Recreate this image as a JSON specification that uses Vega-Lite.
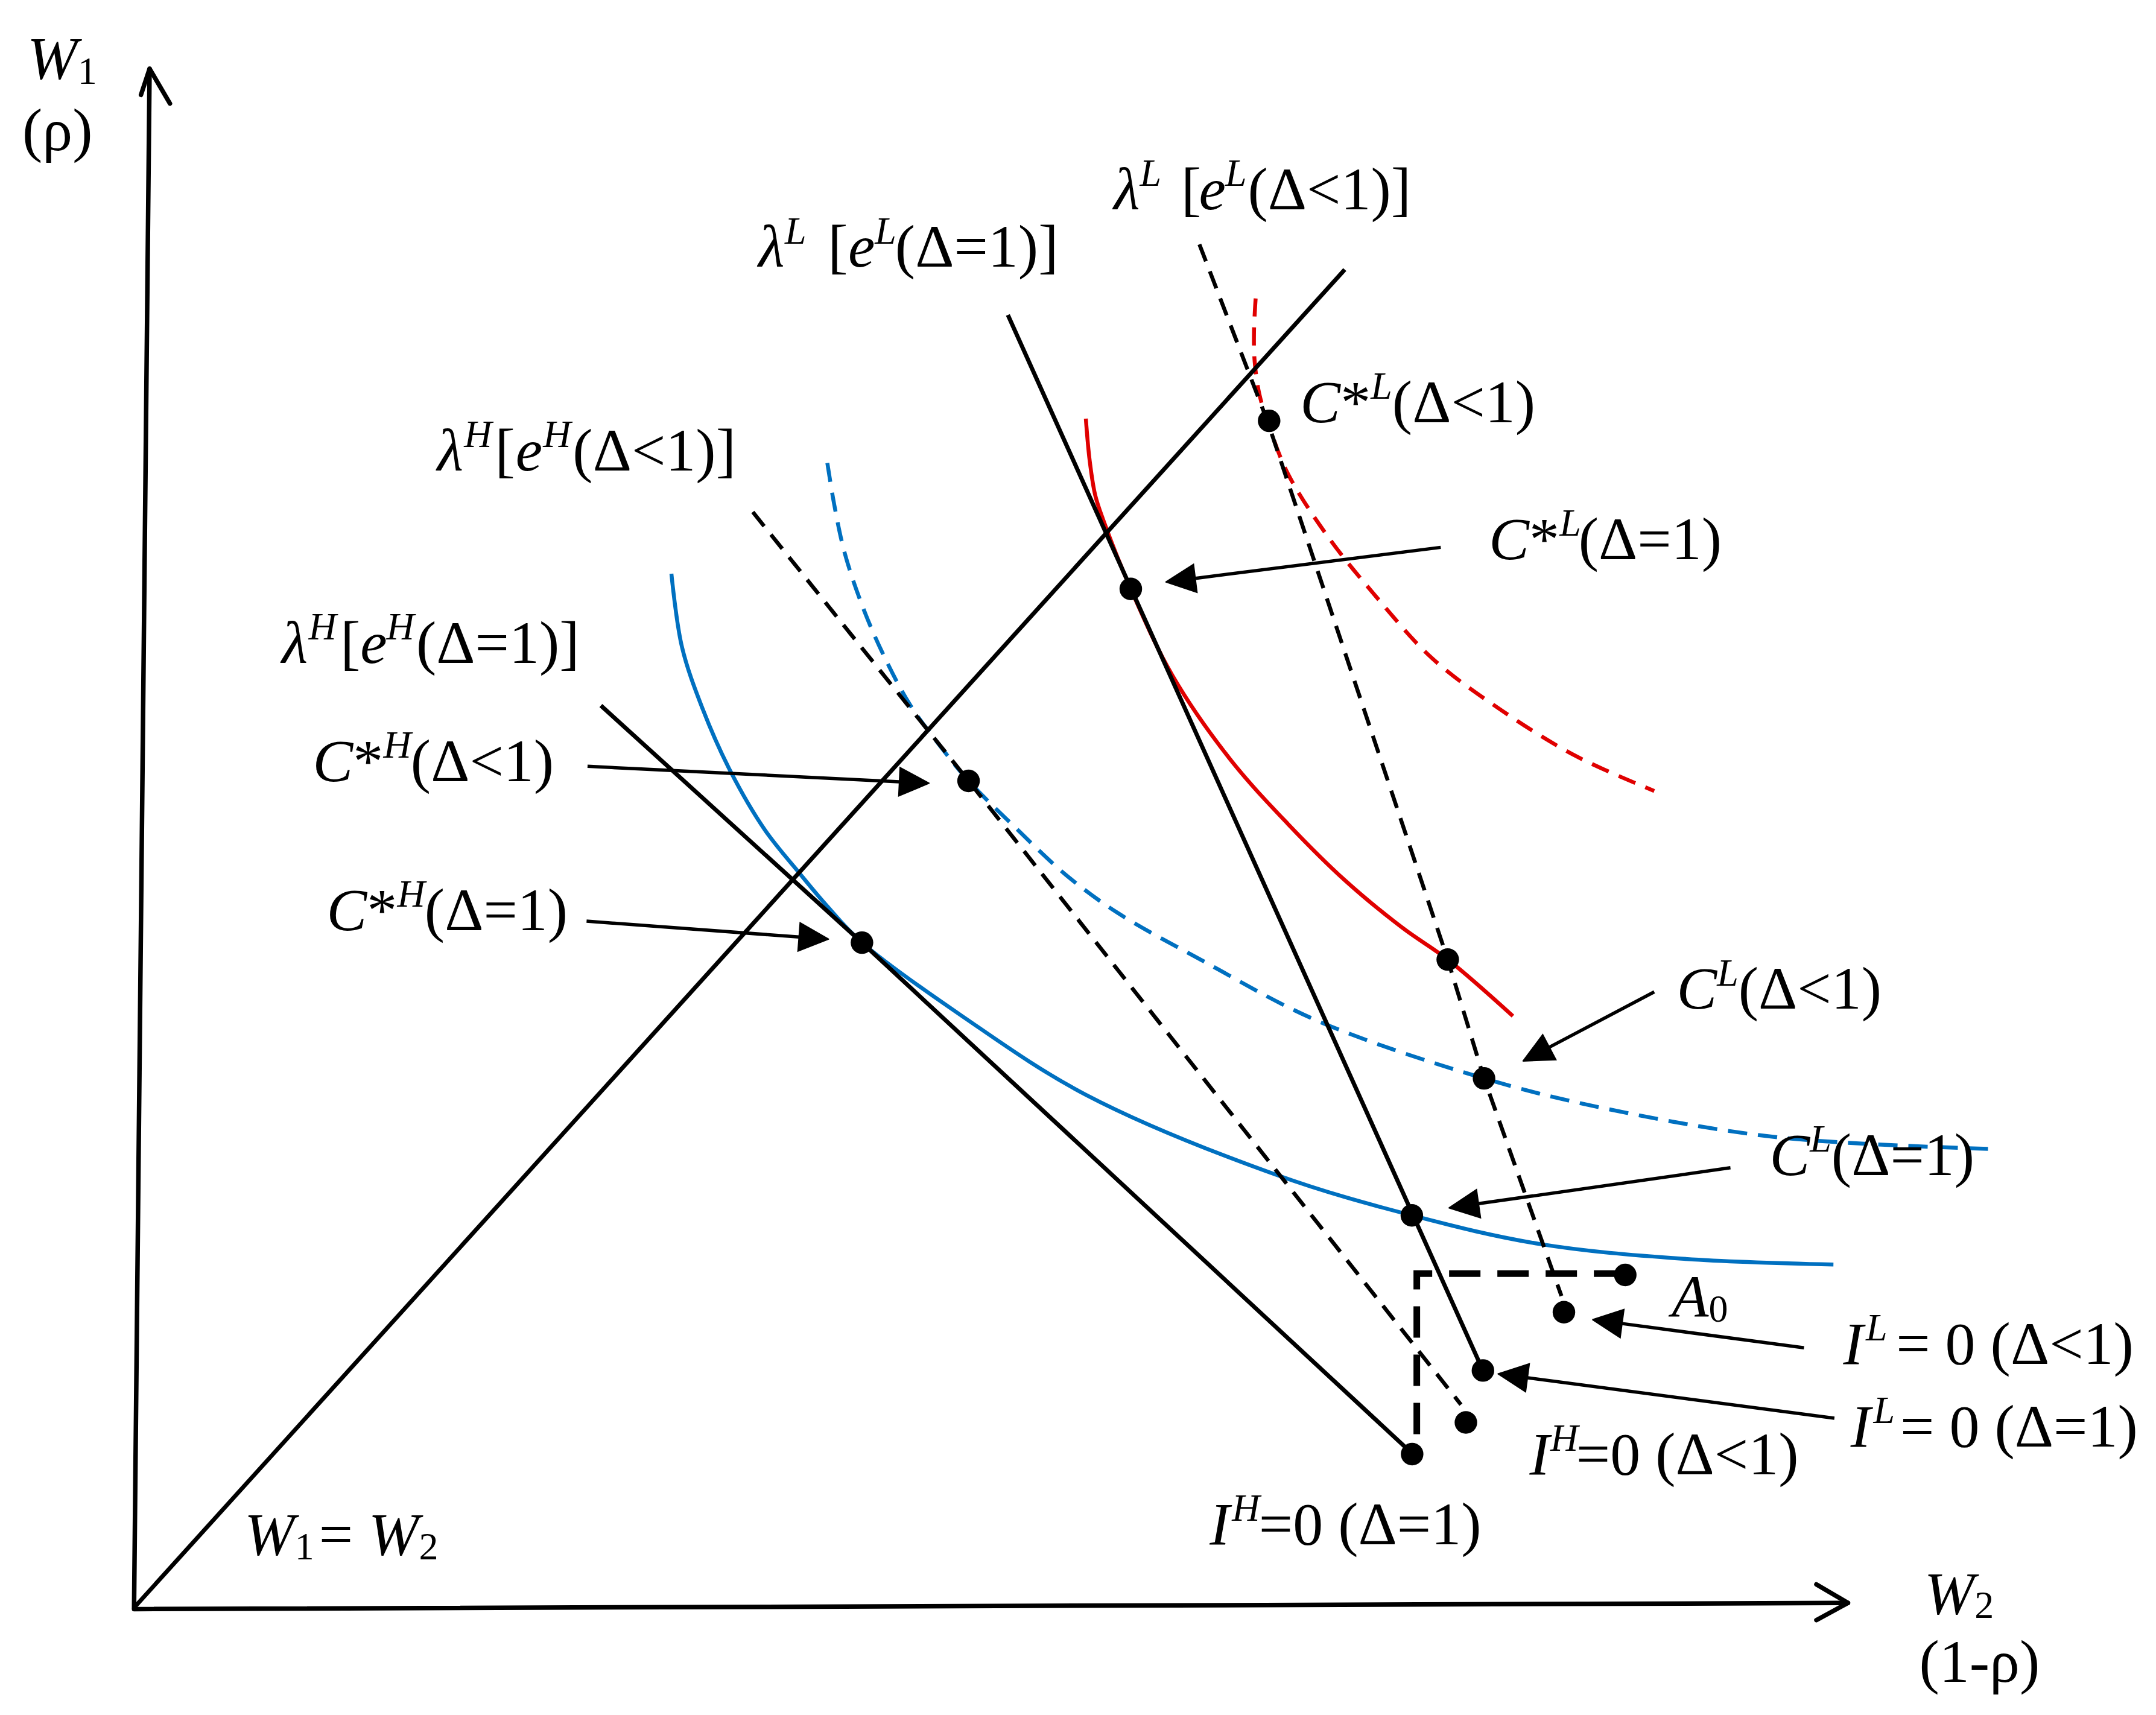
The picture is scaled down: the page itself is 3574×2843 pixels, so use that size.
{
"$schema":"https://vega.github.io/schema/vega-lite/v6.json",
"width":3574,"height":2843,
"autosize":{"type":"fit","contains":"padding"},
"padding":0,
"background":"white",
"config":{"view":{"stroke":null}},
"datasets":{
"lines":[
{"set":"axis","id":"va","ord":0,"w2":0.5,"w1":0},{"set":"axis","id":"va","ord":1,"w2":11.8,"w1":1119},
{"set":"axis","id":"ha","ord":0,"w2":0.5,"w1":-1},{"set":"axis","id":"ha","ord":1,"w2":1247,"w1":3.5},
{"set":"axis","id":"vh","ord":0,"w2":5.5,"w1":1100},{"set":"axis","id":"vh","ord":1,"w2":11.8,"w1":1119},{"set":"axis","id":"vh","ord":2,"w2":26.6,"w1":1093.7},
{"set":"axis","id":"hh","ord":0,"w2":1224,"w1":17},{"set":"axis","id":"hh","ord":1,"w2":1247,"w1":3.5},{"set":"axis","id":"hh","ord":2,"w2":1224,"w1":-9},
{"set":"solid","id":"diag","ord":0,"w2":0.5,"w1":0},{"set":"solid","id":"diag","ord":1,"w2":881,"w1":973},
{"set":"solid","id":"lh1","ord":0,"w2":340,"w1":656},{"set":"solid","id":"lh1","ord":1,"w2":529.9,"w1":483.6},{"set":"solid","id":"lh1","ord":2,"w2":928,"w1":114},
{"set":"solid","id":"ll1","ord":0,"w2":636,"w1":940},{"set":"solid","id":"ll1","ord":1,"w2":981.5,"w1":172.5},
{"set":"dash","id":"lh2","ord":0,"w2":450.5,"w1":796.7},{"set":"dash","id":"lh2","ord":1,"w2":607.4,"w1":601.2},{"set":"dash","id":"lh2","ord":2,"w2":965.5,"w1":147.7},
{"set":"dash","id":"ll2","ord":0,"w2":775.3,"w1":991.3},{"set":"dash","id":"ll2","ord":1,"w2":824.9,"w1":862.5},{"set":"dash","id":"ll2","ord":2,"w2":955.9,"w1":471.3},{"set":"dash","id":"ll2","ord":3,"w2":982.3,"w1":384.9},{"set":"dash","id":"ll2","ord":4,"w2":1038.6,"w1":226.7},
{"set":"bsolid","id":"b1","ord":0,"w2":391.3,"w1":751.8},{"set":"bsolid","id":"b1","ord":1,"w2":398.9,"w1":698.9},{"set":"bsolid","id":"b1","ord":2,"w2":414,"w1":653.6},{"set":"bsolid","id":"b1","ord":3,"w2":434.2,"w1":608.3},{"set":"bsolid","id":"b1","ord":4,"w2":459.3,"w1":565.5},{"set":"bsolid","id":"b1","ord":5,"w2":484.5,"w1":534},{"set":"bsolid","id":"b1","ord":6,"w2":504.7,"w1":510},{"set":"bsolid","id":"b1","ord":7,"w2":529.9,"w1":483.6},{"set":"bsolid","id":"b1","ord":8,"w2":603,"w1":430},{"set":"bsolid","id":"b1","ord":9,"w2":692.7,"w1":373},{"set":"bsolid","id":"b1","ord":10,"w2":831.2,"w1":314.8},{"set":"bsolid","id":"b1","ord":11,"w2":929.8,"w1":285.3},{"set":"bsolid","id":"b1","ord":12,"w2":1022.6,"w1":264.5},{"set":"bsolid","id":"b1","ord":13,"w2":1125.9,"w1":253.8},{"set":"bsolid","id":"b1","ord":14,"w2":1236.4,"w1":249.5},
{"set":"bdash","id":"b2","ord":0,"w2":504.7,"w1":832.4},{"set":"bdash","id":"b2","ord":1,"w2":509.7,"w1":802.2},{"set":"bdash","id":"b2","ord":2,"w2":517.3,"w1":767},{"set":"bdash","id":"b2","ord":3,"w2":529.9,"w1":729.1},{"set":"bdash","id":"b2","ord":4,"w2":545,"w1":693.9},{"set":"bdash","id":"b2","ord":5,"w2":565.1,"w1":656.1},{"set":"bdash","id":"b2","ord":6,"w2":585.3,"w1":628.4},{"set":"bdash","id":"b2","ord":7,"w2":607.4,"w1":601.2},{"set":"bdash","id":"b2","ord":8,"w2":640.7,"w1":568},{"set":"bdash","id":"b2","ord":9,"w2":678.4,"w1":532.7},{"set":"bdash","id":"b2","ord":10,"w2":716.2,"w1":505},{"set":"bdash","id":"b2","ord":11,"w2":776.6,"w1":471},{"set":"bdash","id":"b2","ord":12,"w2":860.6,"w1":427},{"set":"bdash","id":"b2","ord":13,"w2":982.3,"w1":384.9},{"set":"bdash","id":"b2","ord":14,"w2":1070.4,"w1":363},{"set":"bdash","id":"b2","ord":15,"w2":1196.3,"w1":342},{"set":"bdash","id":"b2","ord":16,"w2":1350.8,"w1":333.6},
{"set":"rsolid","id":"r1","ord":0,"w2":692.7,"w1":864.6},{"set":"rsolid","id":"r1","ord":1,"w2":695.5,"w1":834},{"set":"rsolid","id":"r1","ord":2,"w2":699.5,"w1":809},{"set":"rsolid","id":"r1","ord":3,"w2":705.3,"w1":791.1},{"set":"rsolid","id":"r1","ord":4,"w2":725.4,"w1":740.8},{"set":"rsolid","id":"r1","ord":5,"w2":755.7,"w1":677.8},{"set":"rsolid","id":"r1","ord":6,"w2":797.6,"w1":617},{"set":"rsolid","id":"r1","ord":7,"w2":839.6,"w1":570},{"set":"rsolid","id":"r1","ord":8,"w2":881.6,"w1":528.5},{"set":"rsolid","id":"r1","ord":9,"w2":923.5,"w1":494},{"set":"rsolid","id":"r1","ord":10,"w2":955.9,"w1":471.3},{"set":"rsolid","id":"r1","ord":11,"w2":1003.3,"w1":430.2},
{"set":"rdash","id":"r2","ord":0,"w2":816.2,"w1":952},{"set":"rdash","id":"r2","ord":1,"w2":815,"w1":928},{"set":"rdash","id":"r2","ord":2,"w2":815.5,"w1":906},{"set":"rdash","id":"r2","ord":3,"w2":818.9,"w1":882.4},{"set":"rdash","id":"r2","ord":4,"w2":824.9,"w1":862.5},{"set":"rdash","id":"r2","ord":5,"w2":839.6,"w1":824.7},{"set":"rdash","id":"r2","ord":6,"w2":869,"w1":778.5},{"set":"rdash","id":"r2","ord":7,"w2":902.6,"w1":736.6},{"set":"rdash","id":"r2","ord":8,"w2":944.5,"w1":690.4},{"set":"rdash","id":"r2","ord":9,"w2":994.9,"w1":652.6},{"set":"rdash","id":"r2","ord":10,"w2":1049.4,"w1":619.1},{"set":"rdash","id":"r2","ord":11,"w2":1106.1,"w1":593.9},
{"set":"a0","id":"a0","ord":0,"w2":1085,"w1":243},{"set":"a0","id":"a0","ord":1,"w2":933.4,"w1":243},{"set":"a0","id":"a0","ord":2,"w2":933.4,"w1":117},
{"set":"shaft","id":"s1","ord":0,"w2":330.3,"w1":611.8},{"set":"shaft","id":"s1","ord":1,"w2":557,"w1":600.6},
{"set":"shaft","id":"s2","ord":0,"w2":329.6,"w1":499.2},{"set":"shaft","id":"s2","ord":1,"w2":484,"w1":487.7},
{"set":"shaft","id":"s3","ord":0,"w2":950.8,"w1":771},{"set":"shaft","id":"s3","ord":1,"w2":772.4,"w1":748.5},
{"set":"shaft","id":"s4","ord":0,"w2":1106.1,"w1":447.8},{"set":"shaft","id":"s4","ord":1,"w2":1029.9,"w1":407.6},
{"set":"shaft","id":"s5","ord":0,"w2":1161.5,"w1":319.9},{"set":"shaft","id":"s5","ord":1,"w2":978.4,"w1":293.8},
{"set":"shaft","id":"s6","ord":0,"w2":1215,"w1":189},{"set":"shaft","id":"s6","ord":1,"w2":1082.8,"w1":206.6},
{"set":"shaft","id":"s7","ord":0,"w2":1237.1,"w1":137.8},{"set":"shaft","id":"s7","ord":1,"w2":1014,"w1":167.2},
{"set":"head","id":"h1","ord":0,"w2":579,"w1":599.5},{"set":"head","id":"h1","ord":1,"w2":556.5,"w1":590.1},{"set":"head","id":"h1","ord":2,"w2":557.5,"w1":611.1},{"set":"head","id":"h1","ord":3,"w2":579,"w1":599.5},
{"set":"head","id":"h2","ord":0,"w2":505.9,"w1":486.1},{"set":"head","id":"h2","ord":1,"w2":483.2,"w1":477.2},{"set":"head","id":"h2","ord":2,"w2":484.8,"w1":498.2},{"set":"head","id":"h2","ord":3,"w2":505.9,"w1":486.1},
{"set":"head","id":"h3","ord":0,"w2":750.6,"w1":745.8},{"set":"head","id":"h3","ord":1,"w2":771.1,"w1":758.9},{"set":"head","id":"h3","ord":2,"w2":773.7,"w1":738.1},{"set":"head","id":"h3","ord":3,"w2":750.6,"w1":745.8},
{"set":"head","id":"h4","ord":0,"w2":1010.4,"w1":397.4},{"set":"head","id":"h4","ord":1,"w2":1034.8,"w1":398.3},{"set":"head","id":"h4","ord":2,"w2":1025,"w1":416.9},{"set":"head","id":"h4","ord":3,"w2":1010.4,"w1":397.4},
{"set":"head","id":"h5","ord":0,"w2":956.6,"w1":290.7},{"set":"head","id":"h5","ord":1,"w2":976.9,"w1":304.2},{"set":"head","id":"h5","ord":2,"w2":979.9,"w1":283.4},{"set":"head","id":"h5","ord":3,"w2":956.6,"w1":290.7},
{"set":"head","id":"h6","ord":0,"w2":1061,"w1":209.5},{"set":"head","id":"h6","ord":1,"w2":1084.2,"w1":217},{"set":"head","id":"h6","ord":2,"w2":1081.4,"w1":196.2},{"set":"head","id":"h6","ord":3,"w2":1061,"w1":209.5},
{"set":"head","id":"h7","ord":0,"w2":992.2,"w1":170.1},{"set":"head","id":"h7","ord":1,"w2":1015.4,"w1":177.6},{"set":"head","id":"h7","ord":2,"w2":1012.6,"w1":156.8},{"set":"head","id":"h7","ord":3,"w2":992.2,"w1":170.1}
],
"dots":[
{"name":"C*L(Δ<1)","w2":826,"w1":863},{"name":"C*L(Δ=1)","w2":725.4,"w1":740.8},{"name":"C*H(Δ<1)","w2":607.4,"w1":601.2},{"name":"C*H(Δ=1)","w2":529.9,"w1":483.6},
{"name":"red-dash","w2":955.9,"w1":471.3},{"name":"CL(Δ<1)","w2":982.3,"w1":384.9},{"name":"CL(Δ=1)","w2":929.8,"w1":285.3},{"name":"A0","w2":1085,"w1":242},
{"name":"IL=0(Δ<1)","w2":1040.4,"w1":214.9},{"name":"IL=0(Δ=1)","w2":981.5,"w1":172.5},{"name":"IH=0(Δ<1)","w2":969.1,"w1":134.7},{"name":"IH=0(Δ=1)","w2":930,"w1":111.7}
],
"labels":[
{"part":"it","t":"W","w2":-77.3,"w1":1112},
{"part":"it","t":"λ","w2":713,"w1":1017},{"part":"it","t":"e","w2":775,"w1":1017},
{"part":"it","t":"λ","w2":454.6,"w1":975},{"part":"it","t":"e","w2":519.8,"w1":975},
{"part":"it","t":"λ","w2":221,"w1":827},{"part":"it","t":"e","w2":278,"w1":827},
{"part":"it","t":"λ","w2":107.9,"w1":687},{"part":"it","t":"e","w2":165,"w1":687},
{"part":"it","t":"C","w2":130.5,"w1":601},{"part":"it","t":"C","w2":140.6,"w1":492.6},
{"part":"it","t":"C","w2":848.6,"w1":862},{"part":"it","t":"C","w2":985.9,"w1":762.5},
{"part":"it","t":"C","w2":1122.4,"w1":435.5},{"part":"it","t":"C","w2":1190,"w1":314.5},
{"part":"it","t":"A","w2":1118.8,"w1":211.4},
{"part":"it","t":"I","w2":1243.5,"w1":177.2},{"part":"it","t":"I","w2":1248.9,"w1":117.1},
{"part":"it","t":"I","w2":1015.4,"w1":97},{"part":"it","t":"I","w2":782.8,"w1":46.3},
{"part":"it","t":"W","w2":80.7,"w1":38.6},{"part":"it","t":"W","w2":171,"w1":38.6},{"part":"it","t":"W","w2":1302.4,"w1":-4.4},
{"part":"rm","t":"(ρ)","w2":-80.8,"w1":1060},
{"part":"rm","t":"[","w2":762,"w1":1017},{"part":"rm","t":"(Δ<1)]","w2":810.5,"w1":1017},
{"part":"rm","t":"[","w2":505,"w1":975},{"part":"rm","t":"(Δ=1)]","w2":554,"w1":975},
{"part":"rm","t":"[","w2":263,"w1":827},{"part":"rm","t":"(Δ<1)]","w2":319.5,"w1":827},
{"part":"rm","t":"[","w2":150.5,"w1":687},{"part":"rm","t":"(Δ=1)]","w2":205.7,"w1":687},
{"part":"rm","t":"*","w2":159.8,"w1":601},{"part":"rm","t":"(Δ<1)","w2":201.7,"w1":601},
{"part":"rm","t":"*","w2":169.9,"w1":492.6},{"part":"rm","t":"(Δ=1)","w2":211.8,"w1":492.6},
{"part":"rm","t":"*","w2":877.9,"w1":862},{"part":"rm","t":"(Δ<1)","w2":915.5,"w1":862},
{"part":"rm","t":"*","w2":1015.2,"w1":762.5},{"part":"rm","t":"(Δ=1)","w2":1051,"w1":762.5},
{"part":"rm","t":"(Δ<1)","w2":1167.3,"w1":435.5},{"part":"rm","t":"(Δ=1)","w2":1234.9,"w1":314.5},
{"part":"rm","t":"= 0 (Δ<1)","w2":1282,"w1":177.2},{"part":"rm","t":"= 0 (Δ=1)","w2":1285,"w1":117.1},
{"part":"rm","t":"=0 (Δ<1)","w2":1049.3,"w1":97},{"part":"rm","t":"=0 (Δ=1)","w2":818.5,"w1":46.3},
{"part":"rm","t":"=","w2":135,"w1":38.6},{"part":"rm","t":"(1-ρ)","w2":1298.8,"w1":-54},
{"part":"sup","t":"L","w2":732,"w1":1034},{"part":"sup","t":"L","w2":794,"w1":1034},
{"part":"sup","t":"L","w2":473.8,"w1":992},{"part":"sup","t":"L","w2":539.3,"w1":992},
{"part":"sup","t":"H","w2":240.5,"w1":844},{"part":"sup","t":"H","w2":298,"w1":844},
{"part":"sup","t":"H","w2":127.4,"w1":704},{"part":"sup","t":"H","w2":184,"w1":704},
{"part":"sup","t":"H","w2":181.8,"w1":618},{"part":"sup","t":"H","w2":191.9,"w1":509.6},
{"part":"sup","t":"L","w2":899.9,"w1":879},{"part":"sup","t":"L","w2":1037.2,"w1":779.5},
{"part":"sup","t":"L","w2":1151.7,"w1":452.5},{"part":"sup","t":"L","w2":1219.3,"w1":331.5},
{"part":"sup","t":"L","w2":1260,"w1":194.2},{"part":"sup","t":"L","w2":1265.5,"w1":134.1},
{"part":"sup","t":"H","w2":1030.5,"w1":114},{"part":"sup","t":"H","w2":799,"w1":63.3},
{"part":"sub","t":"1","w2":-40.5,"w1":1108},{"part":"sub","t":"0","w2":1145.7,"w1":207.8},
{"part":"sub","t":"1","w2":117.4,"w1":35},{"part":"sub","t":"2","w2":207.7,"w1":35},{"part":"sub","t":"2","w2":1339,"w1":-7.5}
]
},
"encoding":{
"x":{"field":"w2","type":"quantitative","scale":{"domain":[-97,1471],"nice":false,"zero":false},"axis":null},
"y":{"field":"w1","type":"quantitative","scale":{"domain":[-78,1169],"nice":false,"zero":false},"axis":null}
},
"layer":[
{"data":{"name":"lines"},"transform":[{"filter":"datum.set==='bsolid'"}],"mark":{"type":"line","color":"#0070c0","strokeWidth":6.5,"interpolate":"catmull-rom"},"encoding":{"detail":{"field":"id"},"order":{"field":"ord"}}},
{"data":{"name":"lines"},"transform":[{"filter":"datum.set==='bdash'"}],"mark":{"type":"line","color":"#0070c0","strokeWidth":6.5,"strokeDash":[32,18],"interpolate":"catmull-rom"},"encoding":{"detail":{"field":"id"},"order":{"field":"ord"}}},
{"data":{"name":"lines"},"transform":[{"filter":"datum.set==='rsolid'"}],"mark":{"type":"line","color":"#e00000","strokeWidth":6.5,"interpolate":"catmull-rom"},"encoding":{"detail":{"field":"id"},"order":{"field":"ord"}}},
{"data":{"name":"lines"},"transform":[{"filter":"datum.set==='rdash'"}],"mark":{"type":"line","color":"#e00000","strokeWidth":6.5,"strokeDash":[30,18],"interpolate":"catmull-rom"},"encoding":{"detail":{"field":"id"},"order":{"field":"ord"}}},
{"data":{"name":"lines"},"transform":[{"filter":"datum.set==='axis'"}],"mark":{"type":"line","color":"black","strokeWidth":7.5,"strokeCap":"round","strokeJoin":"round"},"encoding":{"detail":{"field":"id"},"order":{"field":"ord"}}},
{"data":{"name":"lines"},"transform":[{"filter":"datum.set==='solid'"}],"mark":{"type":"line","color":"black","strokeWidth":7},"encoding":{"detail":{"field":"id"},"order":{"field":"ord"}}},
{"data":{"name":"lines"},"transform":[{"filter":"datum.set==='dash'"}],"mark":{"type":"line","color":"black","strokeWidth":6.5,"strokeDash":[30,18]},"encoding":{"detail":{"field":"id"},"order":{"field":"ord"}}},
{"data":{"name":"lines"},"transform":[{"filter":"datum.set==='a0'"}],"mark":{"type":"line","color":"black","strokeWidth":11,"strokeDash":[52,28]},"encoding":{"detail":{"field":"id"},"order":{"field":"ord"}}},
{"data":{"name":"lines"},"transform":[{"filter":"datum.set==='shaft'"}],"mark":{"type":"line","color":"black","strokeWidth":5.5},"encoding":{"detail":{"field":"id"},"order":{"field":"ord"}}},
{"data":{"name":"lines"},"transform":[{"filter":"datum.set==='head'"}],"mark":{"type":"line","stroke":"black","fill":"black","strokeWidth":1.5},"encoding":{"detail":{"field":"id"},"order":{"field":"ord"}}},
{"data":{"name":"dots"},"mark":{"type":"point","filled":true,"color":"black","opacity":1,"size":1400}},
{"data":{"name":"labels"},"transform":[{"filter":"datum.part==='it'"}],"mark":{"type":"text","align":"left","baseline":"alphabetic","font":"Liberation Serif","fontSize":100,"fontStyle":"italic","color":"black"},"encoding":{"text":{"field":"t"}}},
{"data":{"name":"labels"},"transform":[{"filter":"datum.part==='rm'"}],"mark":{"type":"text","align":"left","baseline":"alphabetic","font":"Liberation Serif","fontSize":100,"color":"black"},"encoding":{"text":{"field":"t"}}},
{"data":{"name":"labels"},"transform":[{"filter":"datum.part==='sup'"}],"mark":{"type":"text","align":"left","baseline":"alphabetic","font":"Liberation Serif","fontSize":64,"fontStyle":"italic","color":"black"},"encoding":{"text":{"field":"t"}}},
{"data":{"name":"labels"},"transform":[{"filter":"datum.part==='sub'"}],"mark":{"type":"text","align":"left","baseline":"alphabetic","font":"Liberation Serif","fontSize":64,"color":"black"},"encoding":{"text":{"field":"t"}}}
]
}
